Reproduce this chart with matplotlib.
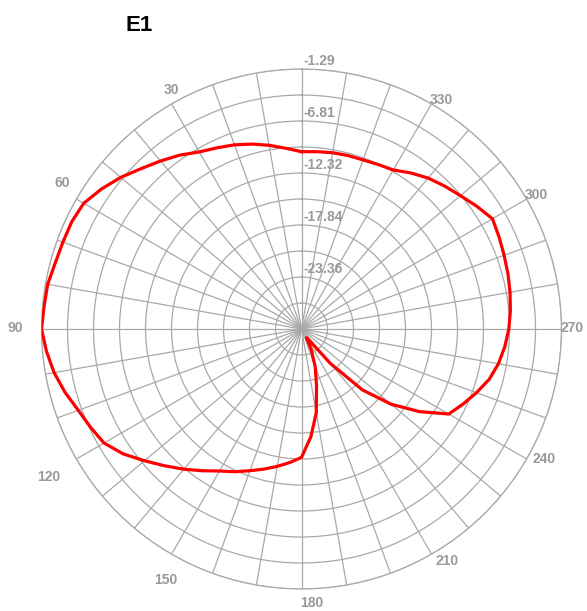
import numpy as np
import matplotlib
matplotlib.use("Agg")
import matplotlib.pyplot as plt

plt.rcParams['font.family'] = ['Liberation Sans', 'DejaVu Sans']

# measured pattern: angle in degrees (0 at top, counter-clockwise), level in dB
angles = list(range(0, 365, 5))
gain_db = [-10.06, -9.62, -9.08, -8.56, -8.08, -7.66, -7.18, -6.35, -5.60, -4.81,
           -3.84, -2.97, -2.19, -1.97, -1.93, -1.82, -1.53, -1.45, -1.29, -1.71,
           -2.22, -2.90, -3.67, -4.18, -4.68, -5.78, -7.13, -8.35, -9.46, -10.52,
           -11.48, -12.17, -12.88, -13.49, -14.08, -14.66, -15.26, -17.42, -19.86,
           -22.73, -24.64, -26.44, -27.82, -27.29, -24.10, -19.75, -16.46, -13.60,
           -10.84, -9.99, -9.12, -8.26, -7.66, -7.23, -6.88, -6.63, -6.41, -6.20,
           -6.00, -5.75, -5.48, -6.17, -6.86, -7.42, -7.97, -8.66, -9.39, -9.62,
           -9.78, -9.82, -9.88, -9.99, -10.06]

r_min = -28.88
r_max = -1.29
r_labels = ['-1.29', '-6.81', '-12.32', '-17.84', '-23.36']
r_label_vals = [-1.29, -6.81, -12.32, -17.84, -23.36]

angle_ticks = [30, 60, 90, 120, 150, 180, 210, 240, 270, 300, 330]
# pixel offsets of the angle labels from the outer ring
angle_offsets = [(0, 14), (-14, 16), (-26, 1), (-28, -18), (-6, -26), (10, -14),
                 (16, -7), (17, 0), (11, 1), (10, 4), (10, 4)]

grid_col = '#a9a9a9'
text_col = '#999999'

fig = plt.figure(figsize=(5.87, 6.11), dpi=100)
ax = fig.add_axes([0.0707, 0.036, 0.8859, 0.851], projection='polar')
ax.set_theta_zero_location('N')
ax.set_theta_direction(1)
ax.set_ylim(r_min, r_max)

rings = np.linspace(r_min, r_max, 11)[1:]
ax.set_rgrids(rings, labels=[''] * len(rings))
ax.set_thetagrids(np.arange(0, 360, 10), labels=[''] * 36)
ax.grid(True, color=grid_col, linewidth=0.9, linestyle='-')
ax.spines['polar'].set_color(grid_col)
ax.spines['polar'].set_linewidth(0.9)
ax.tick_params(length=0)

ax.plot(np.radians(angles), gain_db, color='#ff0000', linewidth=2.3, zorder=5)

for lbl, val in zip(r_labels, r_label_vals):
    ax.annotate(lbl, xy=(0, val), xytext=(2, 4), textcoords='offset pixels',
                ha='left', va='baseline', fontsize=10, fontweight='bold',
                color=text_col)

for a, (dx, dy) in zip(angle_ticks, angle_offsets):
    ax.annotate(str(a), xy=(np.radians(a), r_max), xytext=(dx, dy),
                textcoords='offset pixels', ha='center', va='center',
                fontsize=10, fontweight='bold', color=text_col,
                annotation_clip=False)

fig.text(0.2373, 0.9498, 'E1', ha='center', va='baseline', fontsize=16,
         fontweight='bold', color='black')

fig.savefig('out.png', dpi=100)
